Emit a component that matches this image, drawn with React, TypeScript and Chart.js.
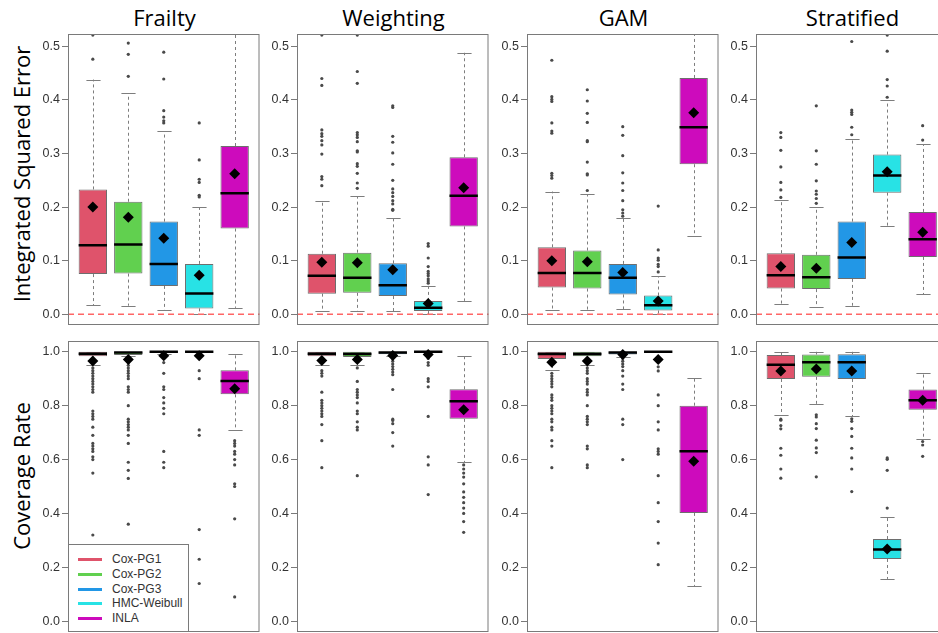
import React, { useEffect, useRef } from "react";
import { Chart, registerables } from "chart.js";

Chart.register(...registerables);

const methods = ["Cox-PG1", "Cox-PG2", "Cox-PG3", "HMC-Weibull", "INLA"];
const methodColors = ["#DF536B", "#61D04F", "#2297E6", "#28E2E5", "#CD0BBC"];
const scenarios = ["Frailty", "Weighting", "GAM", "Stratified"];
const metricTitles = ["Integrated Squared Error", "Coverage Rate"];
const xPositions = [1, 2, 3, 4, 5];

const iseTickValues = [0, 0.1, 0.2, 0.3, 0.4, 0.5];
const iseTickLabels = ["0.0", "0.1", "0.2", "0.3", "0.4", "0.5"];
const covTickValues = [0, 0.2, 0.4, 0.6, 0.8, 1.0];
const covTickLabels = ["0.0", "0.2", "0.4", "0.6", "0.8", "1.0"];

// Integrated squared error: rows = scenarios, columns = methods
const iseLow = [
  [0.017, 0.016, 0.008, 0.0, 0.012],
  [0.006, 0.006, 0.006, 0.0, 0.025],
  [0.008, 0.008, 0.009, 0.0, 0.146],
  [0.019, 0.014, 0.016, 0.165, 0.037],
];
const iseQ1 = [
  [0.075, 0.076, 0.053, 0.011, 0.16],
  [0.0385, 0.04, 0.034, 0.006, 0.164],
  [0.05, 0.048, 0.037, 0.007, 0.28],
  [0.048, 0.047, 0.066, 0.227, 0.107],
];
const iseMedian = [
  [0.129, 0.13, 0.094, 0.039, 0.226],
  [0.072, 0.068, 0.054, 0.012, 0.221],
  [0.077, 0.077, 0.068, 0.017, 0.349],
  [0.073, 0.069, 0.106, 0.259, 0.14],
];
const iseQ3 = [
  [0.233, 0.21, 0.173, 0.094, 0.314],
  [0.113, 0.115, 0.095, 0.025, 0.293],
  [0.125, 0.119, 0.094, 0.035, 0.441],
  [0.114, 0.111, 0.173, 0.298, 0.191],
];
const iseHigh = [
  [0.438, 0.412, 0.342, 0.2, 0.62],
  [0.211, 0.22, 0.18, 0.053, 0.488],
  [0.229, 0.224, 0.179, 0.071, 0.62],
  [0.214, 0.2, 0.327, 0.399, 0.317],
];
const iseMean = [
  [0.2, 0.181, 0.142, 0.073, 0.262],
  [0.097, 0.096, 0.083, 0.02, 0.236],
  [0.1, 0.098, 0.078, 0.025, 0.376],
  [0.089, 0.086, 0.134, 0.266, 0.153],
];
const iseOutliersFrailty = [
  [0.521, 0.476],
  [0.506, 0.485, 0.444],
  [0.489, 0.439, 0.38, 0.368, 0.361, 0.357],
  [0.357, 0.288, 0.252, 0.246, 0.222, 0.219],
  [],
];
const iseOutliersWeighting = [
  [0.521, 0.44, 0.427, 0.344, 0.337, 0.332, 0.324, 0.316, 0.299, 0.257, 0.252, 0.24],
  [0.521, 0.453, 0.431, 0.339, 0.335, 0.33, 0.322, 0.305, 0.303, 0.281, 0.276, 0.263, 0.245, 0.235],
  [0.389, 0.386, 0.332, 0.321, 0.301, 0.28, 0.25, 0.234, 0.227, 0.22, 0.212, 0.206, 0.196, 0.194],
  [0.132, 0.127, 0.105, 0.089, 0.08, 0.076, 0.072, 0.066, 0.062, 0.058],
  [],
];
const iseOutliersGAM = [
  [0.474, 0.406, 0.401, 0.397, 0.357, 0.342, 0.338, 0.263, 0.259, 0.254],
  [0.419, 0.398, 0.375, 0.358, 0.324, 0.322, 0.284, 0.262, 0.26, 0.231],
  [0.35, 0.334, 0.296, 0.264, 0.245, 0.231, 0.212, 0.195, 0.189, 0.183],
  [0.202, 0.12, 0.105, 0.101, 0.093, 0.089, 0.079],
  [],
];
const iseOutliersStratified = [
  [0.339, 0.33, 0.306, 0.275, 0.246, 0.232, 0.218],
  [0.389, 0.305, 0.28, 0.249, 0.23, 0.224, 0.216, 0.207],
  [0.509, 0.381, 0.377, 0.373, 0.349, 0.335],
  [0.521, 0.491, 0.438, 0.426, 0.405],
  [0.352, 0.325],
];

// Coverage rate
const covLow = [
  [0.952, 0.983, 0.99, 1.0, 0.711],
  [0.952, 0.952, 0.983, 1.0, 0.591],
  [0.931, 0.952, 0.981, 1.0, 0.131],
  [0.766, 0.806, 0.761, 0.157, 0.678],
];
const covQ1 = [
  [0.983, 0.988, 0.996, 0.998, 0.842],
  [0.983, 0.981, 0.991, 0.998, 0.751],
  [0.973, 0.983, 0.99, 0.998, 0.402],
  [0.899, 0.907, 0.899, 0.231, 0.785],
];
const covMedian = [
  [0.993, 0.997, 1.0, 1.0, 0.892],
  [0.993, 0.992, 0.997, 1.0, 0.816],
  [0.992, 0.992, 0.997, 1.0, 0.631],
  [0.952, 0.961, 0.961, 0.266, 0.82],
];
const covQ3 = [
  [1.0, 1.0, 1.0, 1.0, 0.931],
  [1.0, 1.0, 1.0, 1.0, 0.861],
  [1.0, 1.0, 1.0, 1.0, 0.8],
  [0.988, 0.99, 0.991, 0.305, 0.86],
];
const covHigh = [
  [1.0, 1.0, 1.0, 1.0, 0.991],
  [1.0, 1.0, 1.0, 1.0, 0.983],
  [1.0, 1.0, 1.0, 1.0, 0.902],
  [1.0, 1.0, 1.0, 0.386, 0.921],
];
const covMean = [
  [0.966, 0.971, 0.985, 0.985, 0.863],
  [0.968, 0.971, 0.986, 0.99, 0.785],
  [0.961, 0.966, 0.99, 0.971, 0.594],
  [0.929, 0.936, 0.929, 0.268, 0.82],
];
const covOutliersFrailty = [
  [0.94, 0.93, 0.92, 0.91, 0.9, 0.89, 0.88, 0.87, 0.86, 0.85, 0.78, 0.77, 0.76, 0.75, 0.72, 0.69, 0.66, 0.65, 0.64, 0.63, 0.61, 0.6, 0.55, 0.32],
  [0.96, 0.95, 0.94, 0.93, 0.92, 0.91, 0.9, 0.87, 0.86, 0.85, 0.8, 0.75, 0.74, 0.73, 0.72, 0.71, 0.69, 0.66, 0.59, 0.56, 0.53, 0.36],
  [0.96, 0.92, 0.87, 0.86, 0.83, 0.81, 0.79, 0.77, 0.63, 0.59, 0.57],
  [0.93, 0.9, 0.71, 0.69, 0.34, 0.23, 0.14],
  [0.67, 0.66, 0.65, 0.63, 0.62, 0.6, 0.58, 0.51, 0.5, 0.38, 0.09],
];
const covOutliersWeighting = [
  [0.93, 0.92, 0.91, 0.85, 0.82, 0.81, 0.8, 0.79, 0.78, 0.77, 0.76, 0.73, 0.67, 0.57],
  [0.94, 0.89, 0.86, 0.85, 0.84, 0.83, 0.81, 0.78, 0.77, 0.74, 0.72, 0.71, 0.54],
  [0.975, 0.965, 0.955, 0.945, 0.935, 0.925, 0.915, 0.86, 0.75, 0.745, 0.733, 0.7, 0.65],
  [0.975, 0.96, 0.95, 0.9, 0.89, 0.87, 0.76, 0.61, 0.58, 0.47],
  [0.58, 0.565, 0.55, 0.535, 0.51, 0.48, 0.46, 0.44, 0.42, 0.4, 0.37, 0.33],
];
const covOutliersGAM = [
  [0.92, 0.91, 0.9, 0.89, 0.88, 0.87, 0.84, 0.83, 0.82, 0.8, 0.79, 0.78, 0.77, 0.75, 0.74, 0.72, 0.71, 0.67, 0.65, 0.57],
  [0.94, 0.93, 0.92, 0.9, 0.89, 0.88, 0.86, 0.85, 0.84, 0.8, 0.76, 0.75, 0.74, 0.73, 0.65, 0.64, 0.58, 0.57],
  [0.975, 0.965, 0.955, 0.945, 0.93, 0.91, 0.88, 0.86, 0.75, 0.73, 0.6],
  [0.944, 0.929, 0.84, 0.8, 0.74, 0.71, 0.64, 0.63, 0.62, 0.54, 0.44, 0.37, 0.29, 0.21],
  [],
];
const covOutliersStratified = [
  [0.75, 0.746, 0.726, 0.714, 0.642, 0.616, 0.565, 0.531],
  [0.766, 0.758, 0.733, 0.715, 0.672, 0.643, 0.626, 0.536],
  [0.751, 0.742, 0.715, 0.686, 0.642, 0.606, 0.565, 0.481],
  [0.606, 0.601, 0.56, 0.42],
  [0.667, 0.654, 0.612],
];

const iseOutliers = [iseOutliersFrailty, iseOutliersWeighting, iseOutliersGAM, iseOutliersStratified];
const covOutliers = [covOutliersFrailty, covOutliersWeighting, covOutliersGAM, covOutliersStratified];

const iseRange = [-0.02, 0.523];
const covRange = [-0.04, 1.04];
const referenceLine = 0;

const COL_LEFT = [68, 297, 527, 756];
const ROW_TOP = [34, 341];
const PLOT_W = 193;
const PLOT_H = 291;
const AXIS_W = 60;
const PAD = 10;
const PAD_R = 4;

const TICK_FONT = "'Liberation Sans', Arial, Helvetica, sans-serif";
const TITLE_FONT = "'Open Sans', 'Noto Sans', sans-serif";

type Stats = {
  lo: number[];
  q1: number[];
  med: number[];
  q3: number[];
  hi: number[];
  mean: number[];
  out: number[][];
};

function makePlugin(stats: Stats, showRef: boolean) {
  return {
    id: "rBoxplot",
    beforeDatasetsDraw(chart: any) {
      const { ctx, chartArea: a, scales } = chart;
      const x = scales.x;
      const y = scales.y;
      const unit = x.getPixelForValue(2) - x.getPixelForValue(1);
      ctx.save();
      ctx.beginPath();
      ctx.rect(a.left, a.top, a.right - a.left, a.bottom - a.top);
      ctx.clip();
      ctx.strokeStyle = "#7d7d7d";
      ctx.lineWidth = 1;
      xPositions.forEach((xv, i) => {
        const px = Math.round(x.getPixelForValue(xv)) + 0.5;
        ctx.setLineDash([3, 3]);
        ctx.beginPath();
        ctx.moveTo(px, y.getPixelForValue(stats.q3[i]));
        ctx.lineTo(px, y.getPixelForValue(stats.hi[i]));
        ctx.moveTo(px, y.getPixelForValue(stats.q1[i]));
        ctx.lineTo(px, y.getPixelForValue(stats.lo[i]));
        ctx.stroke();
        ctx.setLineDash([]);
        const hw = unit * 0.2;
        ctx.beginPath();
        [stats.hi[i], stats.lo[i]].forEach((v) => {
          const py = Math.round(y.getPixelForValue(v)) + 0.5;
          ctx.moveTo(px - hw, py);
          ctx.lineTo(px + hw, py);
        });
        ctx.stroke();
      });
      ctx.restore();
    },
    afterDatasetDraw(chart: any, args: any) {
      if (args.index !== 0) return;
      const { ctx, chartArea: a, scales } = chart;
      const x = scales.x;
      const y = scales.y;
      const unit = x.getPixelForValue(2) - x.getPixelForValue(1);
      ctx.save();
      ctx.beginPath();
      ctx.rect(a.left, a.top, a.right - a.left, a.bottom - a.top);
      ctx.clip();
      ctx.strokeStyle = "#000";
      ctx.lineWidth = 2.5;
      xPositions.forEach((xv, i) => {
        const px = x.getPixelForValue(xv);
        const py = y.getPixelForValue(stats.med[i]);
        ctx.beginPath();
        ctx.moveTo(px - unit * 0.4, py);
        ctx.lineTo(px + unit * 0.4, py);
        ctx.stroke();
      });
      ctx.restore();
    },
    afterDatasetsDraw(chart: any) {
      if (!showRef) return;
      const { ctx, chartArea: a, scales } = chart;
      const py = scales.y.getPixelForValue(referenceLine);
      ctx.save();
      ctx.strokeStyle = "#FF6666";
      ctx.lineWidth = 1.5;
      ctx.setLineDash([6, 4]);
      ctx.beginPath();
      ctx.moveTo(a.left, py);
      ctx.lineTo(a.right, py);
      ctx.stroke();
      ctx.restore();
    },
    afterDraw(chart: any) {
      const { ctx, chartArea: a } = chart;
      ctx.save();
      ctx.strokeStyle = "#7a7a7a";
      ctx.lineWidth = 1;
      ctx.strokeRect(a.left + 0.5, a.top + 0.5, a.right - a.left - 1, a.bottom - a.top - 1);
      ctx.restore();
    },
  };
}

function Panel({ row, col }: { row: number; col: number }) {
  const ref = useRef<HTMLCanvasElement | null>(null);
  useEffect(() => {
    const isTop = row === 0;
    const stats: Stats = isTop
      ? {
          lo: iseLow[col],
          q1: iseQ1[col],
          med: iseMedian[col],
          q3: iseQ3[col],
          hi: iseHigh[col],
          mean: iseMean[col],
          out: iseOutliers[col],
        }
      : {
          lo: covLow[col],
          q1: covQ1[col],
          med: covMedian[col],
          q3: covQ3[col],
          hi: covHigh[col],
          mean: covMean[col],
          out: covOutliers[col],
        };
    const tickValues = isTop ? iseTickValues : covTickValues;
    const tickLabels = isTop ? iseTickLabels : covTickLabels;
    const range = isTop ? iseRange : covRange;

    const chart = new Chart(ref.current as HTMLCanvasElement, {
      type: "bar",
      data: {
        datasets: [
          {
            type: "bar",
            label: "box",
            data: xPositions.map((xv, i) => ({ x: xv, y: [stats.q1[i], stats.q3[i]] })) as any,
            backgroundColor: methodColors,
            borderColor: "#6e6e6e",
            borderWidth: 1,
            borderSkipped: false,
            categoryPercentage: 1,
            barPercentage: 0.8,
            order: 3,
            clip: 0,
          } as any,
          {
            type: "scatter",
            label: "outliers",
            data: stats.out.flatMap((arr, i) => arr.map((v) => ({ x: xPositions[i], y: v }))),
            pointRadius: 1.6,
            pointBackgroundColor: "#4a4a4a",
            pointBorderWidth: 0,
            order: 2,
            clip: 0,
          } as any,
          {
            type: "scatter",
            label: "mean",
            data: stats.mean.map((v, i) => ({ x: xPositions[i], y: v })),
            pointStyle: "rectRot",
            pointRadius: 5.5,
            pointBackgroundColor: "#000",
            pointBorderColor: "#000",
            pointBorderWidth: 0,
            order: 1,
            clip: 0,
          } as any,
        ],
      },
      options: {
        responsive: false,
        maintainAspectRatio: false,
        animation: false,
        events: [],
        devicePixelRatio: 1,
        layout: { padding: { top: PAD, bottom: PAD, left: 0, right: PAD_R } },
        plugins: { legend: { display: false }, tooltip: { enabled: false }, title: { display: false } },
        scales: {
          x: {
            type: "linear",
            min: 0.3,
            max: 5.7,
            offset: false,
            display: false,
            afterBuildTicks: (scale: any) => {
              scale.ticks = xPositions.map((v) => ({ value: v }));
            },
          },
          y: {
            type: "linear",
            min: range[0],
            max: range[1],
            afterBuildTicks: (scale: any) => {
              scale.ticks = tickValues.map((v) => ({ value: v }));
            },
            afterFit: (scale: any) => {
              scale.width = AXIS_W;
            },
            ticks: {
              callback: (_v: any, idx: number) => tickLabels[idx],
              color: "#333",
              font: { family: TICK_FONT, size: 12.5 },
              padding: 2,
            },
            grid: {
              display: true,
              drawOnChartArea: false,
              drawTicks: true,
              tickLength: 6,
              color: "#7a7a7a",
            },
            border: { display: false },
          },
        } as any,
      },
      plugins: [makePlugin(stats, isTop)],
    });
    return () => chart.destroy();
  }, [row, col]);

  const w = AXIS_W + PLOT_W + PAD_R;
  const h = PLOT_H + 2 * PAD;
  return (
    <canvas
      ref={ref}
      width={w}
      height={h}
      style={{
        position: "absolute",
        left: COL_LEFT[col] - AXIS_W,
        top: ROW_TOP[row] - PAD,
        width: w,
        height: h,
      }}
    />
  );
}

function Legend() {
  return (
    <div
      style={{
        position: "absolute",
        left: COL_LEFT[0],
        top: 544,
        width: 121,
        height: ROW_TOP[1] + PLOT_H - 544,
        border: "1px solid #7a7a7a",
        boxSizing: "border-box",
        background: "#fff",
        fontFamily: TICK_FONT,
        fontSize: 12,
        color: "#333",
      }}
    >
      {methods.map((m, i) => (
        <div
          key={m}
          style={{ position: "absolute", left: 0, top: 7 + i * 14.8, height: 14, width: 120 }}
        >
          <div
            style={{
              position: "absolute",
              left: 9,
              top: 6,
              width: 24,
              height: 3,
              background: methodColors[i],
            }}
          />
          <div style={{ position: "absolute", left: 43, top: 0, lineHeight: "14px", whiteSpace: "nowrap" }}>{m}</div>
        </div>
      ))}
    </div>
  );
}

export default function App() {
  return (
    <div
      style={{
        position: "fixed",
        left: 0,
        top: 0,
        width: 938,
        height: 633,
        background: "#fff",
        overflow: "hidden",
      }}
    >
      {scenarios.map((s, c) => (
        <div
          key={s}
          style={{
            position: "absolute",
            left: COL_LEFT[c],
            top: 2,
            width: PLOT_W,
            textAlign: "center",
            fontFamily: TITLE_FONT,
            fontSize: 22,
            lineHeight: "30px",
            color: "#000",
          }}
        >
          {s}
        </div>
      ))}
      {metricTitles.map((t, r) => (
        <div
          key={t}
          style={{
            position: "absolute",
            left: 21 - 150,
            top: (r === 0 ? 174 : 476) - 15,
            width: 300,
            height: 30,
            lineHeight: "30px",
            textAlign: "center",
            transform: "rotate(-90deg)",
            fontFamily: TITLE_FONT,
            fontSize: 22,
            color: "#000",
            whiteSpace: "nowrap",
          }}
        >
          {t}
        </div>
      ))}
      {[0, 1].map((r) => [0, 1, 2, 3].map((c) => <Panel key={`${r}-${c}`} row={r} col={c} />))}
      <Legend />
    </div>
  );
}
